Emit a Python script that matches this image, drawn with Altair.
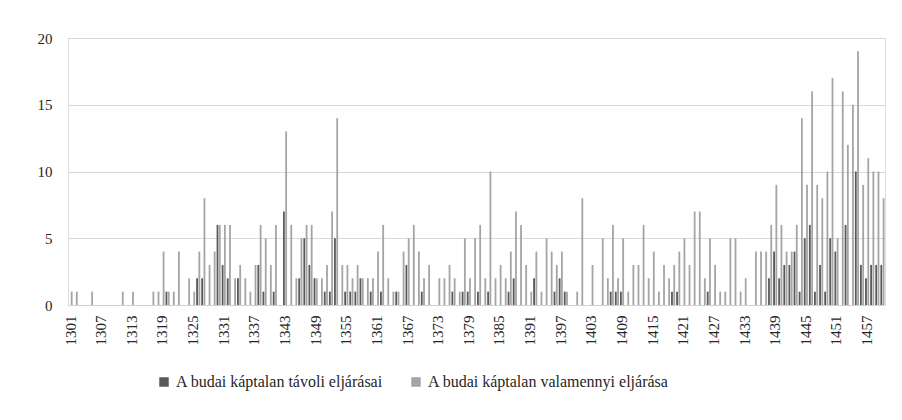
import altair as alt
import pandas as pd

years = list(range(1301, 1461))

# A budai káptalan távoli eljárásai (dark series), 1301..1460
tavoli = [
    0, 0, 0, 0, 0, 0, 0, 0, 0, 0,   # 1301-1310
    0, 0, 0, 0, 0, 0, 0, 0, 0, 1,   # 1311-1320
    0, 0, 0, 0, 0, 2, 2, 0, 0, 6,   # 1321-1330
    3, 2, 0, 2, 0, 0, 0, 3, 1, 0,   # 1331-1340
    1, 0, 7, 0, 0, 2, 5, 3, 2, 0,   # 1341-1350
    1, 1, 5, 0, 1, 1, 1, 2, 0, 1,   # 1351-1360
    0, 1, 0, 0, 1, 0, 3, 0, 0, 1,   # 1361-1370
    0, 0, 0, 0, 0, 1, 0, 1, 1, 0,   # 1371-1380
    1, 0, 1, 0, 0, 0, 1, 2, 0, 0,   # 1381-1390
    0, 2, 0, 0, 0, 1, 2, 1, 0, 0,   # 1391-1400
    0, 0, 0, 0, 0, 0, 1, 1, 1, 0,   # 1401-1410
    0, 0, 0, 0, 0, 0, 0, 0, 1, 1,   # 1411-1420
    0, 0, 0, 0, 0, 1, 0, 0, 0, 0,   # 1421-1430
    0, 0, 0, 0, 0, 0, 0, 2, 4, 2,   # 1431-1440
    3, 3, 4, 1, 5, 6, 1, 3, 1, 5,   # 1441-1450
    4, 0, 6, 0, 10, 3, 2, 3, 3, 3,  # 1451-1460
]

# A budai káptalan valamennyi eljárása (light series), 1301..1460
valamennyi = [
    1, 1, 0, 0, 1, 0, 0, 0, 0, 0,   # 1301-1310
    1, 0, 1, 0, 0, 0, 1, 1, 4, 1,   # 1311-1320
    1, 4, 0, 2, 1, 4, 8, 3, 4, 6,   # 1321-1330
    6, 6, 2, 3, 2, 1, 3, 6, 5, 3,   # 1331-1340
    6, 0, 13, 6, 2, 5, 6, 6, 2, 2,  # 1341-1350
    3, 7, 14, 3, 3, 2, 3, 2, 2, 2,  # 1351-1360
    4, 6, 2, 1, 1, 4, 5, 6, 4, 2,   # 1361-1370
    3, 0, 2, 2, 3, 2, 1, 5, 2, 5,   # 1371-1380
    6, 2, 10, 2, 3, 2, 4, 7, 6, 3,  # 1381-1390
    1, 4, 1, 5, 4, 3, 4, 1, 0, 1,   # 1391-1400
    8, 0, 3, 0, 5, 2, 6, 2, 5, 1,   # 1401-1410
    3, 3, 6, 2, 4, 1, 3, 2, 3, 4,   # 1411-1420
    5, 3, 7, 7, 2, 5, 3, 1, 1, 5,   # 1421-1430
    5, 1, 2, 0, 4, 4, 4, 6, 9, 6,   # 1431-1440
    4, 4, 6, 14, 9, 16, 9, 8, 10, 17,  # 1441-1450
    5, 16, 12, 15, 19, 9, 11, 10, 10, 8,  # 1451-1460
]

series_names = ["A budai káptalan távoli eljárásai", "A budai káptalan valamennyi eljárása"]
colors = ["#595959", "#a5a5a5"]
x_tick_labels = [1301, 1307, 1313, 1319, 1325, 1331, 1337, 1343, 1349, 1355,
                 1361, 1367, 1373, 1379, 1385, 1391, 1397, 1403, 1409, 1415,
                 1421, 1427, 1433, 1439, 1445, 1451, 1457]
y_ticks = [0, 5, 10, 15, 20]

rows = []
for yr, d, v in zip(years, tavoli, valamennyi):
    rows.append({"year": yr, "series": series_names[0], "value": d})
    rows.append({"year": yr, "series": series_names[1], "value": v})
df = pd.DataFrame(rows)

FONT = "'Liberation Serif', 'DejaVu Serif', serif"

chart = alt.Chart(df).mark_bar().encode(
    x=alt.X(
        "year:O",
        scale=alt.Scale(paddingInner=0.2, paddingOuter=0.1),
        axis=alt.Axis(
            values=x_tick_labels, labelAngle=270, title=None, ticks=False, grid=False,
            domainColor="#d0d0d0", labelFont=FONT, labelFontSize=15, labelPadding=10,
            labelColor="#262626",
        ),
    ),
    xOffset=alt.XOffset("series:N", sort=series_names, scale=alt.Scale(paddingInner=0.2)),
    y=alt.Y(
        "value:Q",
        scale=alt.Scale(domain=[0, 20]),
        axis=alt.Axis(
            values=y_ticks, title=None, domain=False, ticks=False, gridColor="#d9d9d9",
            labelFont=FONT, labelFontSize=15, labelPadding=16, labelColor="#262626",
        ),
    ),
    color=alt.Color(
        "series:N",
        sort=series_names,
        scale=alt.Scale(domain=series_names, range=colors),
        legend=alt.Legend(
            title=None, orient="none", direction="horizontal", legendX=88, legendY=336,
            symbolType="square", symbolSize=90, symbolStrokeWidth=0, labelLimit=500,
            labelFont=FONT, labelFontSize=16, labelColor="#262626", columnPadding=24,
        ),
    ),
).properties(
    width=817,
    height=267,
    padding={"left": 60, "top": 30, "right": 9, "bottom": 107},
    autosize=alt.AutoSizeParams(type="none"),
).configure_view(stroke=None).configure(background="white")

chart.save("out.html", embed_options={"renderer": "svg", "actions": False})
